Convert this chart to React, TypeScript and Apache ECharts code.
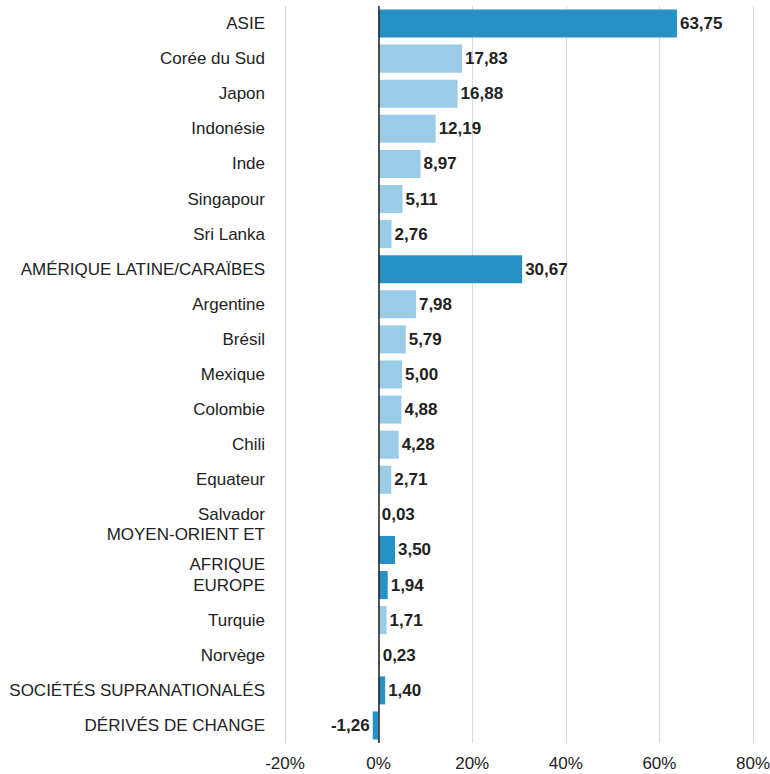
import React, { useEffect, useRef } from "react";
import * as echarts from "echarts";

const categories = [
  "ASIE",
  "Corée du Sud",
  "Japon",
  "Indonésie",
  "Inde",
  "Singapour",
  "Sri Lanka",
  "AMÉRIQUE LATINE/CARAÏBES",
  "Argentine",
  "Brésil",
  "Mexique",
  "Colombie",
  "Chili",
  "Equateur",
  "Salvador",
  "MOYEN-ORIENT ET\nAFRIQUE",
  "EUROPE",
  "Turquie",
  "Norvège",
  "SOCIÉTÉS SUPRANATIONALÉS",
  "DÉRIVÉS DE CHANGE",
];

const values = [
  63.75, 17.83, 16.88, 12.19, 8.97, 5.11, 2.76, 30.67, 7.98, 5.79, 5.0, 4.88,
  4.28, 2.71, 0.03, 3.5, 1.94, 1.71, 0.23, 1.4, -1.26,
];

// true = regional aggregate (dark bar)
const isAggregate = [
  true, false, false, false, false, false, false, true, false, false, false,
  false, false, false, false, true, true, false, false, true, true,
];

const xTicks = [-20, 0, 20, 40, 60, 80];

const DARK = "#2591C6";
const LIGHT = "#9ACBE7";
const FONT = "'Liberation Sans', Arial, sans-serif";

export default function App() {
  const ref = useRef<HTMLDivElement>(null);

  useEffect(() => {
    if (!ref.current) return;
    const chart = echarts.init(ref.current, undefined, { renderer: "svg" });
    const data = values.map((v, i) => ({
      value: v,
      itemStyle: { color: isAggregate[i] ? DARK : LIGHT },
      label: { position: v < 0 ? "left" : "right" },
    }));
    chart.setOption({
      animation: false,
      grid: {
        left: 285,
        right: 17,
        top: 6,
        bottom: 31,
        containLabel: false,
        outerBoundsMode: "none",
      },
      xAxis: {
        type: "value",
        min: xTicks[0],
        max: xTicks[xTicks.length - 1],
        interval: 20,
        axisLine: { show: false },
        axisTick: { show: false },
        splitLine: { show: true, lineStyle: { color: "#d9d9d9", width: 1 } },
        axisLabel: {
          formatter: "{value}%",
          color: "#222",
          fontSize: 17,
          fontFamily: FONT,
          margin: 12,
        },
      },
      yAxis: {
        type: "category",
        data: categories,
        inverse: true,
        axisLine: { show: false, onZero: false },
        axisTick: { show: false },
        splitLine: { show: false },
        axisLabel: {
          color: "#222",
          fontSize: 17,
          fontFamily: FONT,
          margin: 20,
          lineHeight: 30,
          align: "right",
        },
      },
      series: [
        {
          type: "bar",
          data,
          barCategoryGap: "20%",
          label: {
            show: true,
            color: "#222",
            fontWeight: "bold",
            fontSize: 17,
            fontFamily: FONT,
            distance: 3,
            formatter: (p: any) => Number(p.value).toFixed(2).replace(".", ","),
          },
          markLine: {
            silent: true,
            symbol: "none",
            label: { show: false },
            lineStyle: { color: "#222", width: 1.5, type: "solid" },
            data: [{ xAxis: 0 }],
          },
        },
      ],
    });
    return () => chart.dispose();
  }, []);

  return (
    <div
      ref={ref}
      style={{ position: "fixed", left: 0, top: 0, width: 770, height: 774, background: "#fff" }}
    />
  );
}
